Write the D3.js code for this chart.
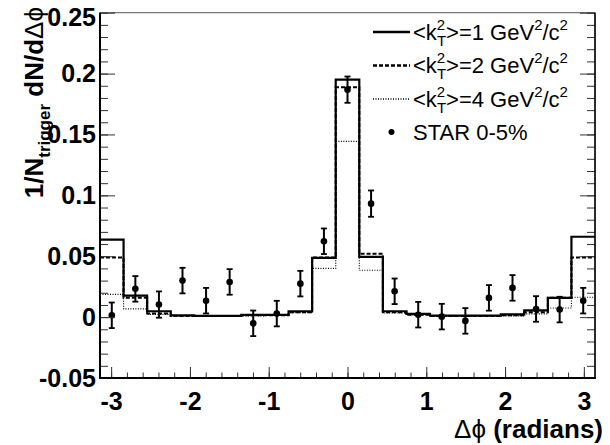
<!DOCTYPE html>
<html>
<head>
<meta charset="utf-8">
<script src="https://cdn.jsdelivr.net/npm/d3@7"></script>
<style>
  body { margin: 0; background: #fff; }
  svg text { font-family: "Liberation Sans", Arial, Helvetica, sans-serif; }
</style>
</head>
<body>
<div id="chart"></div>
<script>
// 21 bins from -pi to pi, model curves + STAR points at the bin centres
var nBins = 21;
var kt1 = [0.0636, 0.0177, 0.0048, 0.0015, 0.0010, 0.0010, 0.0018, 0.0018, 0.0048, 0.0486, 0.1950,
           0.0494, 0.0048, 0.0026, 0.0012, 0.0012, 0.0012, 0.0023, 0.0056, 0.0158, 0.0660];
var kt2 = [0.0490, 0.0160, 0.0030, 0.0010, 0.0010, 0.0010, 0.0015, 0.0015, 0.0040, 0.0490, 0.1887,
           0.0520, 0.0040, 0.0020, 0.0010, 0.0010, 0.0010, 0.0015, 0.0040, 0.0160, 0.0490];
var kt4 = [0.0187, 0.0067, 0.0023, 0.0010, 0.0008, 0.0008, 0.0010, 0.0015, 0.0037, 0.0400, 0.1444,
           0.0385, 0.0034, 0.0018, 0.0010, 0.0008, 0.0008, 0.0010, 0.0026, 0.0075, 0.0163];
var starVals = [0.0015, 0.0232, 0.0103, 0.0300, 0.0135, 0.0289, -0.0051, 0.0029, 0.0275, 0.0623, 0.1868,
                0.0932, 0.0212, 0.0020, 0.0004, -0.0031, 0.0158, 0.0240, 0.0067, 0.0062, 0.0135];
var starErr = [0.0105, 0.0105, 0.0108, 0.0105, 0.0105, 0.0105, 0.0105, 0.0105, 0.0105, 0.0105, 0.0108,
               0.0108, 0.0105, 0.0105, 0.0105, 0.0105, 0.0105, 0.0105, 0.0105, 0.0105, 0.0105];

var xTicks = [-3, -2, -1, 0, 1, 2, 3];
var yTicks = [-0.05, 0, 0.05, 0.1, 0.15, 0.2, 0.25];
var ktLabels = ["1", "2", "4"];

var width = 610, height = 445;
var svg = d3.select("#chart").append("svg")
    .attr("width", width)
    .attr("height", height);

var x = d3.scaleLinear().domain([-Math.PI, Math.PI]).range([100, 595]);
var y = d3.scaleLinear().domain([-0.05, 0.25]).range([378, 12.7]);
var binW = 2 * Math.PI / nBins;

// frame
svg.append("rect")
    .attr("x", x.range()[0]).attr("y", y.range()[1])
    .attr("width", x.range()[1] - x.range()[0])
    .attr("height", y.range()[0] - y.range()[1])
    .style("fill", "none").style("stroke", "#555").style("stroke-width", 1);

// histograms
var step = d3.line()
    .x(function(d) { return x(d[0]); })
    .y(function(d) { return y(d[1]); })
    .curve(d3.curveStepAfter);

function histPoints(vals) {
  var pts = vals.map(function(v, i) { return [-Math.PI + i * binW, v]; });
  pts.push([Math.PI, vals[vals.length - 1]]);
  return pts;
}

var series = [
  { vals: kt1, width: 2.2, dash: null },
  { vals: kt2, width: 2, dash: "4,2" },
  { vals: kt4, width: 1.2, dash: "1,1.5" }
];

svg.selectAll(".hist")
  .data(series)
  .enter().append("path")
    .attr("class", "hist")
    .attr("d", function(s) { return step(histPoints(s.vals)); })
    .style("fill", "none")
    .style("stroke", "#000")
    .style("stroke-width", function(s) { return s.width; })
    .style("stroke-dasharray", function(s) { return s.dash; });

// STAR points
var centres = starVals.map(function(v, i) { return -Math.PI + (i + 0.5) * binW; });
var pts = svg.append("g").selectAll("g")
  .data(starVals)
  .enter().append("g");

pts.append("line")
    .attr("x1", function(d, i) { return x(centres[i]); })
    .attr("x2", function(d, i) { return x(centres[i]); })
    .attr("y1", function(d, i) { return y(d - starErr[i]); })
    .attr("y2", function(d, i) { return y(d + starErr[i]); })
    .style("stroke", "#000").style("stroke-width", 2);

[-1, 1].forEach(function(sgn) {
  pts.append("line")
      .attr("x1", function(d, i) { return x(centres[i]) - 3; })
      .attr("x2", function(d, i) { return x(centres[i]) + 3; })
      .attr("y1", function(d, i) { return y(d + sgn * starErr[i]); })
      .attr("y2", function(d, i) { return y(d + sgn * starErr[i]); })
      .style("stroke", "#000").style("stroke-width", 1.8);
});

pts.append("circle")
    .attr("cx", function(d, i) { return x(centres[i]); })
    .attr("cy", function(d) { return y(d); })
    .attr("r", 3.3)
    .style("fill", "#000");

// axes (ROOT style: ticks inside)
function fmt(d) { return String(+d.toFixed(2)); }

var yMinor = d3.range(-50, 251, 10).map(function(v) { return v / 1000; });
var xMinor = d3.range(-15, 16).map(function(v) { return v * 0.2; });

var gyMinor = svg.append("g").attr("transform", "translate(100,0)")
    .call(d3.axisLeft(y).tickValues(yMinor).tickSize(-8).tickFormat(""));
var gyMinorR = svg.append("g").attr("transform", "translate(595,0)")
    .call(d3.axisRight(y).tickValues(yMinor).tickSize(-8).tickFormat(""));
var gy = svg.append("g").attr("transform", "translate(100,0)")
    .call(d3.axisLeft(y).tickValues(yTicks).tickSize(-15).tickPadding(4).tickFormat(fmt));
var gyR = svg.append("g").attr("transform", "translate(595,0)")
    .call(d3.axisRight(y).tickValues(yTicks).tickSize(-15).tickFormat(""));
var gxMinor = svg.append("g").attr("transform", "translate(0,378)")
    .call(d3.axisBottom(x).tickValues(xMinor).tickSize(-5.5).tickFormat(""));
var gx = svg.append("g").attr("transform", "translate(0,378)")
    .call(d3.axisBottom(x).tickValues(xTicks).tickSize(-11).tickPadding(14).tickFormat(fmt));

[gyMinor, gyMinorR, gy, gyR, gxMinor, gx].forEach(function(g) {
  g.selectAll(".tick line").style("stroke", "#333").style("stroke-width", 1);
  g.select(".domain").remove();
  g.selectAll("text")
    .style("font-size", "25px")
    .style("font-weight", "bold")
    .style("fill", "#000")
    .style("font-family", "'Liberation Sans', Arial, sans-serif");
});
// top label sits a little lower so it stays inside the page
gy.selectAll(".tick text").filter(function(d) { return d === 0.25; }).attr("dy", "0.5em");

// axis lines
svg.append("line").attr("x1", 100).attr("x2", 100).attr("y1", 12.7).attr("y2", 379)
    .style("stroke", "#000").style("stroke-width", 2);
svg.append("line").attr("x1", 99).attr("x2", 596).attr("y1", 378).attr("y2", 378)
    .style("stroke", "#000").style("stroke-width", 2);
svg.append("line").attr("x1", 595).attr("x2", 595).attr("y1", 12.7).attr("y2", 379)
    .style("stroke", "#000").style("stroke-width", 1.5);

// axis titles
var xt = svg.append("text")
    .attr("x", 603).attr("y", 438)
    .attr("text-anchor", "end")
    .style("font-size", "26px").style("font-weight", "bold");
xt.append("tspan").style("font-weight", "normal").text("\u0394\u03d5");
xt.append("tspan").text(" (radians)");

var yt = svg.append("text")
    .attr("transform", "translate(43,7) rotate(-90)")
    .attr("text-anchor", "end")
    .style("font-size", "26px").style("font-weight", "bold");
yt.append("tspan").text("1/N");
yt.append("tspan").attr("dy", 7).style("font-size", "17px").text("trigger");
yt.append("tspan").attr("dy", -7).text(" dN/d");
yt.append("tspan").style("font-weight", "normal").text("\u0394\u03d5");

// legend
var legY = [32, 65.5, 99, 132];
var leg = svg.append("g");

series.forEach(function(s, i) {
  leg.append("line")
      .attr("x1", 373).attr("x2", 410)
      .attr("y1", legY[i]).attr("y2", legY[i])
      .style("stroke", "#000")
      .style("stroke-width", s.width + 0.4)
      .style("stroke-dasharray", s.dash);

  var t = leg.append("text")
      .attr("x", 413).attr("y", legY[i] + 7.5)
      .style("font-size", "22px");
  t.append("tspan").text("<k");
  t.append("tspan").attr("dy", -10).style("font-size", "15px").text("2");
  t.append("tspan").attr("dx", -8.3).attr("dy", 16).style("font-size", "15px").text("T");
  t.append("tspan").attr("dy", -6).text(">=" + ktLabels[i] + " GeV");
  t.append("tspan").attr("dy", -10).style("font-size", "15px").text("2");
  t.append("tspan").attr("dy", 10).text("/c");
  t.append("tspan").attr("dy", -10).style("font-size", "15px").text("2");
});

leg.append("circle")
    .attr("cx", 391.5).attr("cy", legY[3])
    .attr("r", 3)
    .style("fill", "#000");
leg.append("text")
    .attr("x", 413).attr("y", legY[3] + 7.5)
    .style("font-size", "22px")
    .text("STAR 0-5%");
</script>
</body>
</html>
